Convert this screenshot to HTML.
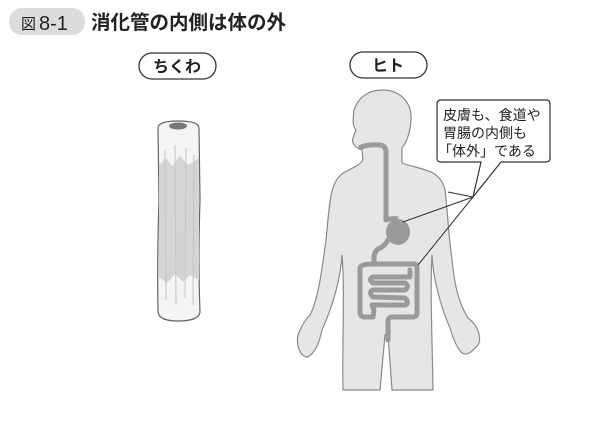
<!DOCTYPE html>
<html><head><meta charset="utf-8"><style>
body{margin:0;background:#fff;width:600px;height:417px;overflow:hidden;font-family:"Liberation Sans","Noto Sans CJK JP",sans-serif}
</style></head><body>
<svg width="600" height="417" viewBox="0 0 600 417" xmlns="http://www.w3.org/2000/svg" font-family="Liberation Sans, Noto Sans CJK JP, sans-serif">
<rect x="9" y="8" width="76" height="27" rx="13" fill="#dcdcdc"/>
<text x="21" y="29" font-size="15" fill="#222">図</text>
<text x="39" y="30" font-size="20" fill="#222">8-1</text>
<text x="91" y="29" font-size="19.5" font-weight="bold" fill="#222">消化管の内側は体の外</text>
<rect x="139" y="53" width="77" height="26" rx="13" fill="#fff" stroke="#333" stroke-width="1.3"/>
<text x="177" y="72" font-size="16" text-anchor="middle" font-weight="bold" fill="#222">ちくわ</text>
<rect x="350" y="52" width="77" height="26" rx="13" fill="#fff" stroke="#333" stroke-width="1.3"/>
<text x="388" y="71" font-size="16" text-anchor="middle" font-weight="bold" fill="#222">ヒト</text>
<!-- chikuwa -->
<path d="M158 128 Q158 121 178 121 Q199 121 199 128 L200 200 Q198 260 200 312 Q199 321 178 321 Q159 321 158 312 Q157 260 159 200 Z" fill="#f4f4f4" stroke="#666" stroke-width="1.2"/>
<path d="M159 165 L166 158 L172 166 L180 156 L188 165 L199 158 L199 280 L190 275 L183 282 L175 274 L167 283 L159 277 Z" fill="#d4d4d4"/>
<g stroke="#c4c4c4" stroke-width="1"><line x1="165" y1="150" x2="166" y2="300"/><line x1="175" y1="145" x2="176" y2="305"/><line x1="186" y1="148" x2="185" y2="298"/><line x1="194" y1="155" x2="193" y2="305"/></g>
<ellipse cx="178" cy="126" rx="9" ry="3.5" fill="#777"/>
<!-- body -->
<path d="M382 90 C400 90 412 102 411 120 C410 135 406 143 402 148 L402 163 C420 170 440 168 445 190 C448 215 448 230 452 260 C455 290 460 305 468 318 C478 325 482 338 478 345 C472 352 466 357 461 352 C455 345 452 335 450 328 C442 310 433 280 432 255 C430 290 432 330 433 390 L392 390 L388 335 L385 335 L380 390 L343 390 C342 340 345 290 342 255 C340 285 330 312 322 330 C320 340 316 352 308 357 C300 357 296 345 298 335 C302 325 305 320 310 315 C318 300 322 270 326 240 C330 200 330 180 345 172 C352 168 360 165 363 160 L362 150 C356 148 351 144 353 138 L356 130 C352 126 353 118 354 110 C358 98 368 90 382 90 Z" fill="#e6e6e6" stroke="#8a8a8a" stroke-width="1.2"/>
<!-- digestive tract -->
<g fill="none" stroke="#9a9a9a" stroke-width="5" stroke-linejoin="round" stroke-linecap="round">
<path d="M361 147 Q370 144 380 145 Q386 146 386 152 L386 220"/>
<path d="M388 240 Q384 247 378 249 Q374 252 374 258 L374 264"/>
<path d="M373 264 L414 264 Q417 264 417 268 L417 313 Q417 317 413 317 L392 317 Q388 317 388 322 L388 340"/>
<path d="M373 264 Q360 264 360 268 L360 312 Q360 317 365 317 L373 317 L374 310 L372 305 L405 305 Q410 303 405 298 L373 297 Q368 292 373 290 L405 290 Q410 286 405 283 L373 283 Q368 279 373 277 L410 277 L410 270"/>
</g>
<ellipse cx="398" cy="232" rx="12" ry="13" fill="#9a9a9a"/>
<path d="M386 220 Q392 218 398 219" stroke="#9a9a9a" stroke-width="5" fill="none"/>
<!-- callout -->
<g stroke="#333" stroke-width="1" fill="none">
<line x1="448" y1="192" x2="473" y2="197"/>
<line x1="403" y1="222" x2="473" y2="197"/>
<line x1="418" y1="265" x2="473" y2="197"/>
</g>
<path d="M441 100 L546 100 Q550 100 550 104 L550 158 Q550 162 546 162 L501 162 L473 197 L481 162 L441 162 Q437 162 437 158 L437 104 Q437 100 441 100 Z" fill="#fff" stroke="#333" stroke-width="1.2"/>
<g font-size="14" fill="#222"><text x="443" y="120">皮膚も、食道や</text><text x="443" y="138">胃腸の内側も</text><text x="438" y="156">「体外」である</text></g>
</svg>
</body></html>
